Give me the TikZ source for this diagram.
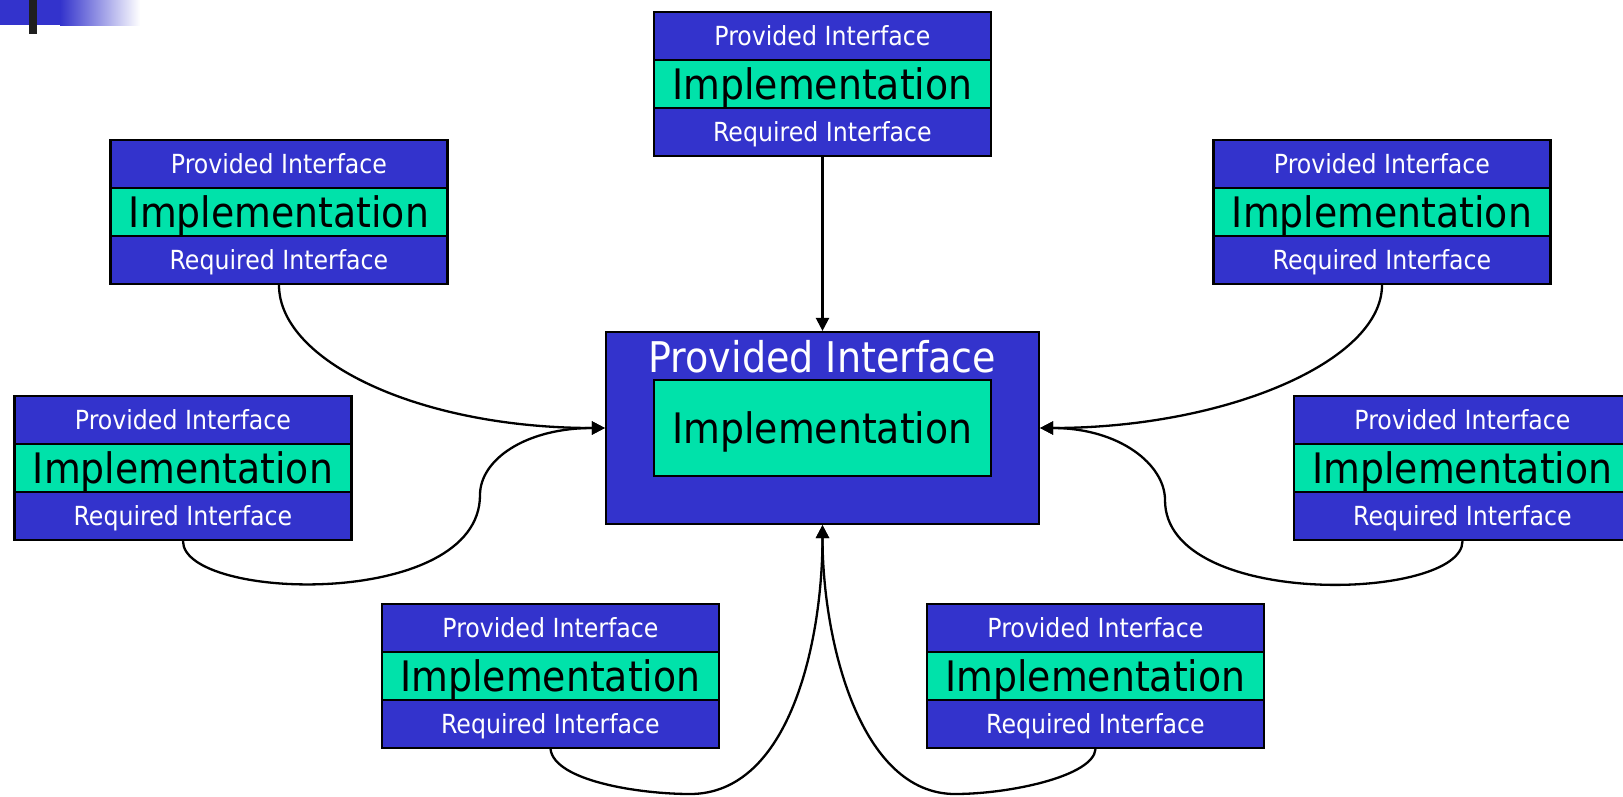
\documentclass[tikz,border=0pt]{standalone}
\usepackage{fontspec}
\newfontfamily\labelfont{DejaVu Sans Condensed}
\usetikzlibrary{arrows.meta}

\definecolor{ifblue}{RGB}{51,51,204}
\definecolor{implgreen}{RGB}{0,226,170}

\tikzset{
  part/.style={draw=black, line width=2.2pt, minimum width=337pt,
    minimum height=48pt, inner sep=0pt, text depth=0pt, anchor=center},
  ifpart/.style={part, fill=ifblue, text=white,
    font=\labelfont\fontsize{26.3}{26.3}\selectfont, text height=19.2pt},
  implpart/.style={part, fill=implgreen, text=black,
    font=\labelfont\fontsize{42}{42}\selectfont, text height=30.6pt},
  component/.pic={
    \node[implpart] (-i) at (0,0) {Implementation};
    \node[ifpart] (-p) at (0,-48) {Provided Interface};
    \node[ifpart] (-r) at (0,48) {Required Interface};
  },
  corebox/.style={draw=black, line width=2.2pt, fill=ifblue,
    minimum width=433pt, minimum height=192pt, inner sep=0pt},
  coreimpl/.style={implpart, minimum height=96pt},
  coretitle/.style={text=white, inner sep=0pt, text depth=0pt,
    font=\labelfont\fontsize{42.3}{42.3}\selectfont, text height=30.8pt},
  link/.style={draw=black, line width=2.3pt,
    -{Triangle[length=13pt,width=13pt]}},
}

\begin{document}
\begin{tikzpicture}[x=1pt,y=-1pt]
  \useasboundingbox (0,0) rectangle (1623,796);
  \clip (0,0) rectangle (1623,796);

  % corner mark
  \fill[ifblue] (0,0) rectangle (60,25);
  \shade[left color=ifblue, right color=white] (60,0) rectangle (140,25);
  \fill[black!88] (29,0) rectangle (37,34);

  % central component
  \node[corebox] (core) at (822.5,428) {};
  \node[coreimpl] (coreimpl) at (822.5,428) {Implementation};
  \node[coretitle] (coretitle) at (822.5,357) {Provided Interface};

  % surrounding components
  \pic (c1) at (822.5,84) {component};
  \pic (c2) at (279,212) {component};
  \pic (c3) at (1382,212) {component};
  \pic (c4) at (183,468) {component};
  \pic (c5) at (1462.5,468) {component};
  \pic (c6) at (550.5,676) {component};
  \pic (c7) at (1095.5,676) {component};

  % way points of the winding connectors
  \coordinate (mlvia) at (480,495);
  \coordinate (mrvia) at (1165,500);
  \coordinate (blvia) at (690,794);
  \coordinate (brvia) at (955,794);

  % connectors: required interfaces into the central provided interface
  \draw[link] (c1-r.south) -- (core.north);
  \draw[link] (c2-r.south) .. controls +(0,76) and +(-186,0) .. (core.west);
  \draw[link] (c3-r.south) .. controls +(0,76) and +(186,0) .. (core.east);
  \draw[link] (c4-r.south) .. controls +(0,60) and +(0,115) .. (mlvia)
     .. controls +(0,-35) and +(-80,0) .. (core.west);
  \draw[link] (c5-r.south) .. controls +(0,60) and +(0,110) .. (mrvia)
     .. controls +(0,-35) and +(80,0) .. (core.east);
  \draw[link] (c6-r.south) .. controls +(4,32) and +(-50,0) .. (blvia)
     .. controls +(100,0) and +(0,116) .. (core.south);
  \draw[link] (c7-r.south) .. controls +(-2,27) and +(55,0) .. (brvia)
     .. controls +(-95,0) and +(0,116) .. (core.south);
\end{tikzpicture}
\end{document}
